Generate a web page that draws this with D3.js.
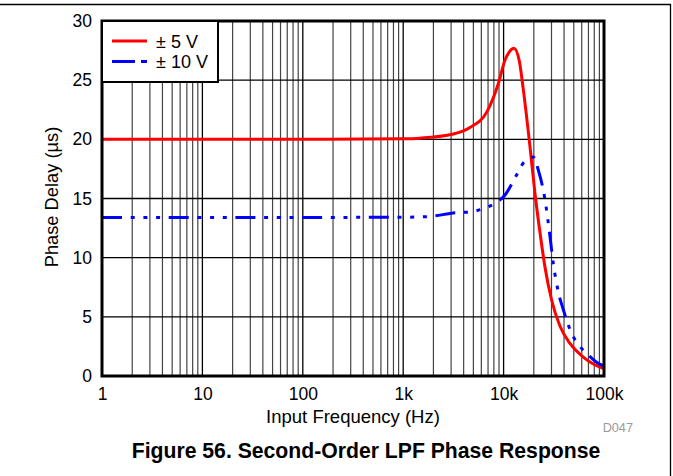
<!DOCTYPE html>
<html><head><meta charset="utf-8">
<script src="https://cdn.jsdelivr.net/npm/d3@7"></script>
<style>body{margin:0;background:#fff}svg{display:block;font-family:"Liberation Sans",Arial,sans-serif}</style>
</head><body><svg id="c" width="673" height="476"></svg>
<script>
// Data (frequency in Hz, phase delay in µs)
const seriesNames = ["± 5 V", "± 10 V"];
const seriesColors = ["#ff0000", "#0000ff"];
const freq5 = [1, 10, 100, 1000, 1470, 3155, 4620, 6790, 8850, 10330, 11400, 12700, 14350, 15720, 18300, 20560, 23050, 25840, 30120, 36470, 45850, 62200, 98400, 100000];
const delay5 = [20.0, 20.0, 20.0, 20.05, 20.1, 20.45, 21.0, 22.3, 24.7, 26.7, 27.4, 27.7, 26.6, 24.2, 19.4, 15.4, 12.1, 9.2, 6.4, 4.2, 2.75, 1.6, 0.65, 0.63];
const freq10 = [1, 10, 100, 1000, 1710, 3410, 4620, 6050, 8210, 10330, 13500, 15720, 19780, 22180, 25840, 28970, 31260, 35080, 39360, 47620, 57630, 72530, 94800, 100000];
const delay10 = [13.4, 13.4, 13.4, 13.42, 13.46, 13.8, 13.86, 14.1, 14.6, 15.3, 17.0, 18.0, 18.5, 17.4, 14.9, 11.8, 9.5, 7.1, 5.6, 3.6, 2.5, 1.63, 0.93, 0.9];
const xTicks = [1, 10, 100, 1000, 10000, 100000];
const xTickLabels = ["1", "10", "100", "1k", "10k", "100k"];
const yTicks = [0, 5, 10, 15, 20, 25, 30];

const svg = d3.select("#c");
const L = 102, R = 604, T = 21, B = 376;
const x = d3.scaleLog().domain([1, 100000]).range([L, R]);
const y = d3.scaleLinear().domain([0, 30]).range([B, T]);

// outer frame (top and right)
svg.append("path").attr("d", "M0,4.5H670.5V476").attr("fill","none").attr("stroke","#000").attr("stroke-width",1.3);

// grid: minor verticals
const minor = [];
for (let d = 1; d < 100000; d *= 10) for (let k = 2; k <= 9; k++) minor.push(d * k);
svg.append("g").selectAll("line").data(minor).join("line")
  .attr("x1", d => x(d)).attr("x2", d => x(d)).attr("y1", T).attr("y2", B)
  .attr("stroke", "#444").attr("stroke-width", 1.2);
svg.append("g").selectAll("line").data(xTicks).join("line")
  .attr("x1", d => x(d)).attr("x2", d => x(d)).attr("y1", T).attr("y2", B)
  .attr("stroke", "#000").attr("stroke-width", 1.3);
svg.append("g").selectAll("line").data(yTicks).join("line")
  .attr("x1", L).attr("x2", R).attr("y1", d => y(d)).attr("y2", d => y(d))
  .attr("stroke", "#000").attr("stroke-width", 1.3);

// series
const line = d3.line().x(d => x(d[0])).y(d => y(d[1])).curve(d3.curveMonotoneX);
const dash10 = "20,8.7,4,8.7,4,8.7,4,8.6";
svg.append("path").datum(freq5.map((f, i) => [f, delay5[i]])).attr("d", line)
  .attr("fill", "none").attr("stroke", seriesColors[0]).attr("stroke-width", 3);
svg.append("path").datum(freq10.map((f, i) => [f, delay10[i]])).attr("d", line)
  .attr("fill", "none").attr("stroke", seriesColors[1]).attr("stroke-width", 3)
  .attr("stroke-dasharray", dash10);

// plot frame
svg.append("rect").attr("x", L).attr("y", T).attr("width", R - L).attr("height", B - T)
  .attr("fill", "none").attr("stroke", "#000").attr("stroke-width", 3);

// axes
const xAxis = d3.axisBottom(x).tickValues(xTicks).tickFormat((d, i) => xTickLabels[i]).tickSize(0).tickPadding(12);
const gx = svg.append("g").attr("transform", `translate(0,${B})`).call(xAxis);
gx.select(".domain").remove();
gx.selectAll("text").attr("font-size", 17.5).attr("fill", "#000").attr("font-family", "Liberation Sans, Arial, sans-serif");
const yAxis = d3.axisLeft(y).tickValues(yTicks).tickSize(0).tickPadding(10);
const gy = svg.append("g").attr("transform", `translate(${L},0)`).call(yAxis);
gy.select(".domain").remove();
gy.selectAll("text").attr("font-size", 17.5).attr("fill", "#000").attr("font-family", "Liberation Sans, Arial, sans-serif");

// axis titles
svg.append("text").attr("x", (L + R) / 2).attr("y", 423).attr("text-anchor", "middle")
  .attr("font-size", 18.5).text("Input Frequency (Hz)");
svg.append("text").attr("transform", "translate(58,197) rotate(-90)").attr("text-anchor", "middle")
  .attr("font-size", 18.3).text("Phase Delay (µs)");
svg.append("text").attr("x", 633).attr("y", 432).attr("text-anchor", "end")
  .attr("font-size", 12.7).attr("fill", "#999").text("D047");
svg.append("text").attr("x", 366).attr("y", 458).attr("text-anchor", "middle")
  .attr("font-size", 21.2).attr("font-weight", "bold").text("Figure 56. Second-Order LPF Phase Response");

// legend
const lg = svg.append("g");
lg.append("rect").attr("x", L).attr("y", T).attr("width", 116).attr("height", 61)
  .attr("fill", "#fff").attr("stroke", "#000").attr("stroke-width", 2);
seriesNames.forEach((n, i) => {
  const yy = 41 + i * 20.5;
  lg.append("line").attr("x1", 112).attr("x2", 147).attr("y1", yy).attr("y2", yy)
    .attr("stroke", seriesColors[i]).attr("stroke-width", 3)
    .attr("stroke-dasharray", i === 1 ? "23,6,6,100" : null);
  lg.append("text").attr("x", 156).attr("y", yy + 6.5).attr("font-size", 18).text(n);
});
</script></body></html>
